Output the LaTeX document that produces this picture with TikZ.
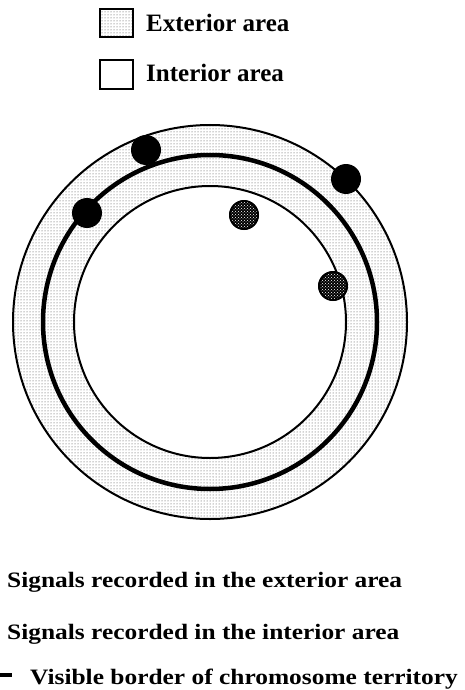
\documentclass[tikz,border=0pt]{standalone}
\usepackage{fontspec}
\setmainfont{Liberation Serif}
\usetikzlibrary{patterns}
\newcommand{\widen}[1]{\scalebox{1.155}[1]{#1}}
\tikzset{
  lbl/.style={font=\fontsize{22}{24}\selectfont\bfseries, anchor=base west, inner sep=0pt},
  toplbl/.style={font=\fontsize{25}{28}\selectfont\bfseries, anchor=base west, inner sep=0pt},
  extdot/.style={circle, fill=black, minimum size=30pt, inner sep=0pt},
  intdot/.style={circle, draw=black, line width=1.6pt, pattern=crosshatch dots, pattern color=white, minimum size=30pt, inner sep=0pt},
  band/.style={pattern=dots, pattern color=black!75},
}
\begin{document}
\begin{tikzpicture}[x=1pt,y=-1pt]
\useasboundingbox (0,0) rectangle (464,690);
% legend top
\filldraw[band, draw=black, line width=2pt] (100,9) rectangle (133,37);
\draw[line width=2pt] (100,60) rectangle (133,89);
\node[toplbl] (ext) at (146,32) {Exterior area};
\node[toplbl] (int) at (146,82) {Interior area};
% rings
\coordinate (c) at (210,322);
\fill[band, even odd rule] (c) circle[radius=197pt] (c) circle[radius=136pt];
\draw[line width=2pt] (c) circle[radius=197pt];
\draw[line width=4.5pt] (c) circle[radius=167pt];
\draw[line width=2pt] (c) circle[radius=136pt];
% signals
\node[extdot] (e1) at (146,150) {};
\node[extdot] (e2) at (87,213) {};
\node[extdot] (e3) at (346,179) {};
\fill[black] (244,215) circle[radius=15pt];
\fill[black] (333,286) circle[radius=15pt];
\node[intdot, minimum size=28pt] (i1) at (244,215) {};
\node[intdot, minimum size=28pt] (i2) at (333,286) {};
% legend bottom
\node[lbl] (s1) at (7,587) {\widen{Signals recorded in the exterior area}};
\node[lbl] (s2) at (7,639) {\widen{Signals recorded in the interior area}};
\coordinate (d1) at (0,675);
\coordinate (d2) at (12,675);
\draw[line width=4pt] (d1) -- (d2);
\node[lbl] (s3) at (30,684) {\widen{Visible border of chromosome territory}};
\end{tikzpicture}
\end{document}
